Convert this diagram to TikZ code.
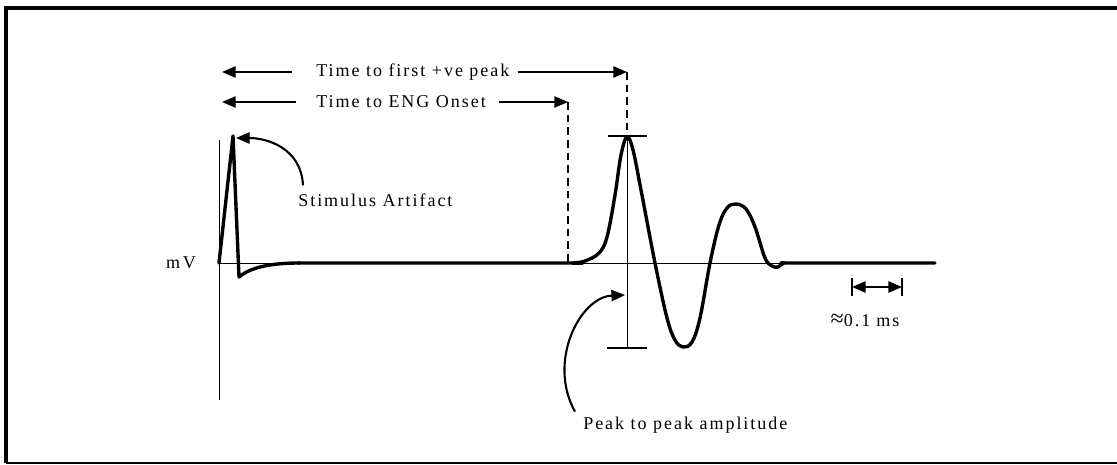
\documentclass[tikz,border=0pt]{standalone}
\usepackage{fontspec}
\setmainfont{Liberation Serif}[LetterSpace=11]
\usetikzlibrary{arrows.meta,calc,positioning}

\begin{document}
\begin{tikzpicture}[x=0.025cm,y=-0.025cm,
        lbl/.style={inner sep=0pt,font=\fontsize{12.8}{15}\selectfont},
        trace/.style={line width=2.4pt,line join=round,line cap=round},
        hair/.style={line width=0.7pt},
        guide/.style={line width=1pt,dash pattern=on 5.5pt off 3.5pt},
        span/.style={line width=1.2pt,-{Triangle[length=3.4mm,width=2.8mm]}},
        callout/.style={line width=1.5pt,-{Triangle[length=3.4mm,width=2.8mm]}}]
        \useasboundingbox (0,0) rectangle (1117,465);
        % frame
        \draw[line width=2.4pt] (1117,8) -- (6,8) -- (6,463);
        \draw[line width=1pt] (6,463) -- (1117,463);
        % axes
        \coordinate (origin) at (219,263);
        \coordinate (axisEnd) at (935,263);
        \draw[hair] (219,140) -- (219,400);
        \draw[hair] (origin) -- (axisEnd);
        \node[lbl] (mv) at (181,263) {m\,V};
        % recorded trace
        \draw[trace] (origin) -- (233,136) -- (239,277) .. controls (252,266) and (275,263) .. (300,263);
        \draw[trace] plot[smooth,tension=0.6] coordinates {(298,263) (560,263) (572,263) (585,261)
          (599,253) (607,237) (615,195) (621,155) (627,137) (633,150) (641,190) (655,263) (667,318)
          (675,340) (683,347) (692,342) (700,318) (710,263) (719,225) (727,208) (736,204) (746,209)
          (755,227) (765,258) (772,266) (778,267) (784,263) (795,263) (935,263)};
        % peak to peak bar
        \coordinate (ppTop) at (627,136);
        \coordinate (ppBot) at (627,348);
        \draw[hair] (ppTop) -- (ppBot);
        \draw[line width=1.3pt] (608,136) -- (647,136);
        \draw[line width=1.3pt] (607,348) -- (647,348);
        % guides
        \coordinate (peakTop) at (627,72);
        \coordinate (onsetTop) at (568,102);
        \coordinate (onset) at (568,263);
        \draw[guide] (peakTop) -- (ppTop);
        \draw[guide] (onsetTop) -- (onset);
        % time spans
        \coordinate (startA) at (222,72);
        \coordinate (startB) at (222,102);
        \node[lbl,anchor=west] (tpeak) at (316,72) {Time to first +ve peak};
        \node[lbl,anchor=west] (tonset) at (316,102) {Time to ENG Onset};
        \draw[span] (tpeak.west) ++(-24,0) -- (startA);
        \draw[span] (tpeak.east) ++(8,0) -- (peakTop);
        \draw[span] (tonset.west) ++(-20,0) -- (startB);
        \draw[span] (tonset.east) ++(13,0) -- (onsetTop);
        % callouts
        \coordinate (spikeTip) at (236,138);
        \coordinate (ppMid) at (625,295);
        \node[lbl,anchor=west] (stim) at (298,200) {Stimulus Artifact};
        \node[lbl,anchor=west] (ppamp) at (583,425) {Peak to peak amplitude};
        \draw[callout] (stim.north west) ++(5,-8) .. controls +(-2,-38) and +(30,0) .. (spikeTip);
        \draw[callout] (ppamp.north west) ++(-8,-5) .. controls +(-28,-50) and +(-45,2) .. (ppMid);
        % scale bar
        \coordinate (barL) at (852,287);
        \coordinate (barR) at (902,287);
        \draw[line width=1.5pt] (852,278) -- (852,296);
        \draw[line width=1.5pt] (902,278) -- (902,296);
        \draw[line width=1.3pt,{Triangle[length=3.4mm,width=2.8mm]}-{Triangle[length=3.4mm,width=2.8mm]}] (barL) -- (barR);
        \node[lbl] (scale) at (865,320) {{\fontsize{17}{17}\selectfont ≈}0.1\,\,ms};
      \end{tikzpicture}
\end{document}
